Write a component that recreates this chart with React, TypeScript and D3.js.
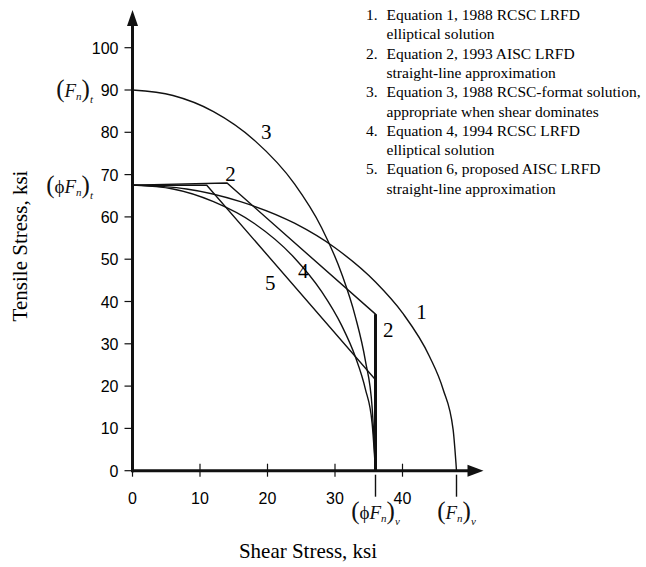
import React, { useEffect, useRef } from 'react';
import * as d3 from 'd3';

// shear (ksi), tensile (ksi)
const curve1 = [[0, 67.5], [8, 66.6], [16, 63.6], [24, 58.5], [30, 52.7], [36, 44.6], [40, 37.3], [44, 27.0], [46, 19.3], [47.5, 9.7], [48, 0]];
const curve2 = [[0, 67.5], [14, 68], [36, 37], [36, 0]];
const curve3 = [[0, 90], [6, 88.7], [12, 84.9], [18, 78.2], [24, 67.8], [28, 57.5], [31, 46.5], [33, 36.5], [34.5, 26], [35.5, 15], [36, 0]];
const curve4 = [[0, 67.5], [6, 66.6], [12, 63.6], [18, 58.5], [24, 50.3], [28, 42.4], [31, 34.3], [33, 27.0], [34.5, 19.3], [35.5, 11.2], [36, 0]];
const curve5 = [[0, 67.5], [11, 67.5], [36, 21.5], [36, 0]];

const curveLabels = [
  { text: '3', x: 19.8, y: 80 },
  { text: '2', x: 14.5, y: 70.2 },
  { text: '1', x: 42.8, y: 37.5 },
  { text: '2', x: 37.9, y: 33.3 },
  { text: '4', x: 25.3, y: 47.3 },
  { text: '5', x: 20.4, y: 44.3 },
];

const xTicks = [0, 10, 20, 30, 40];
const yTicks = [0, 10, 20, 30, 40, 50, 60, 70, 80, 90, 100];

const phiFnV = 36;
const FnV = 48;
const FnT = 90;
const phiFnT = 67.5;

const legendItems = [
  ['1.', 'Equation 1, 1988 RCSC LRFD', 'elliptical solution'],
  ['2.', 'Equation 2, 1993 AISC LRFD', 'straight-line approximation'],
  ['3.', 'Equation 3, 1988 RCSC-format solution,', 'appropriate when shear dominates'],
  ['4.', 'Equation 4, 1994 RCSC LRFD', 'elliptical solution'],
  ['5.', 'Equation 6, proposed AISC LRFD', 'straight-line approximation'],
];

const SERIF = '"Liberation Serif", "Times New Roman", serif';
const SANS = '"Liberation Sans", Arial, sans-serif';

export default function App() {
  const ref = useRef<SVGSVGElement>(null);

  useEffect(() => {
    const svg = d3.select(ref.current);
    svg.selectAll('*').remove();

    const x = d3.scaleLinear().domain([0, 40]).range([132.5, 402.5]);
    const y = d3.scaleLinear().domain([0, 100]).range([470.7, 47.7]);

    const g = svg.append('g');

    // curves
    const smooth = d3.line<number[]>().x(d => x(d[0])).y(d => y(d[1])).curve(d3.curveMonotoneX);
    const straight = d3.line<number[]>().x(d => x(d[0])).y(d => y(d[1]));

    [curve1, curve3, curve4].forEach(c => {
      g.append('path').attr('d', smooth(c)).attr('fill', 'none')
        .attr('stroke', '#111').attr('stroke-width', 1.4);
    });
    [curve5, curve2].forEach(c => {
      g.append('path').attr('d', straight(c)).attr('fill', 'none')
        .attr('stroke', '#111').attr('stroke-width', 1.4);
    });
    // heavy vertical cut-off of curve 2
    g.append('line')
      .attr('x1', x(curve2[2][0])).attr('y1', y(curve2[2][1]))
      .attr('x2', x(curve2[3][0])).attr('y2', y(curve2[3][1]))
      .attr('stroke', '#111').attr('stroke-width', 3);

    // axes
    const x0 = x(0), y0 = y(0);
    const xEnd = x(FnV) + 27;
    g.append('line').attr('x1', x0).attr('y1', y0).attr('x2', xEnd - 12).attr('y2', y0)
      .attr('stroke', '#111').attr('stroke-width', 3);
    g.append('path').attr('d', `M${xEnd},${y0} L${xEnd - 16},${y0 - 6} L${xEnd - 16},${y0 + 6} Z`).attr('fill', '#111');
    const yTop = 10;
    g.append('line').attr('x1', x0).attr('y1', y0 + 1.5).attr('x2', x0).attr('y2', yTop + 12)
      .attr('stroke', '#111').attr('stroke-width', 3);
    g.append('path').attr('d', `M${x0},${yTop} L${x0 - 5.5},${yTop + 16} L${x0 + 5.5},${yTop + 16} Z`).attr('fill', '#111');

    // y ticks
    g.selectAll('.ytick').data(yTicks).join('line').attr('class', 'ytick')
      .attr('x1', x0 - 8).attr('x2', x0).attr('y1', d => y(d)).attr('y2', d => y(d))
      .attr('stroke', '#111').attr('stroke-width', 1.2);
    g.selectAll('.ylab').data(yTicks).join('text').attr('class', 'ylab')
      .attr('x', x0 - 14).attr('y', d => y(d) + 6)
      .attr('text-anchor', 'end').attr('font-family', SANS).attr('font-size', 16)
      .text(d => d);

    // x ticks
    g.selectAll('.xtick').data(xTicks).join('line').attr('class', 'xtick')
      .attr('x1', d => x(d)).attr('x2', d => x(d)).attr('y1', y0 - 7).attr('y2', y0 + 6)
      .attr('stroke', '#111').attr('stroke-width', 1.2);
    g.selectAll('.xlab').data(xTicks).join('text').attr('class', 'xlab')
      .attr('x', d => x(d)).attr('y', y0 + 33)
      .attr('text-anchor', 'middle').attr('font-family', SANS).attr('font-size', 16)
      .text(d => d);

    // long ticks for (phiFn)v and (Fn)v
    [phiFnV, FnV].forEach(v => {
      g.append('line').attr('x1', x(v)).attr('x2', x(v)).attr('y1', y0 + 4).attr('y2', y0 + 26)
        .attr('stroke', '#111').attr('stroke-width', 1.4);
    });

    // symbol labels: ( [phi] F n ) sub
    const symbol = (cx: number, cy: number, phi: boolean, sub: string, anchor: string) => {
      const t = g.append('text').attr('x', cx).attr('y', cy).attr('text-anchor', anchor)
        .attr('font-family', SERIF).attr('fill', '#111');
      t.append('tspan').attr('font-size', 25).text('(');
      if (phi) t.append('tspan').attr('font-size', 19).text('\u03D5');
      t.append('tspan').attr('font-size', 19).attr('font-style', 'italic').text('F');
      t.append('tspan').attr('font-size', 11).attr('font-style', 'italic').attr('dy', 3).text('n');
      t.append('tspan').attr('font-size', 25).attr('dy', -3).text(')');
      t.append('tspan').attr('font-size', 11).attr('font-style', 'italic').attr('dy', 6).text(sub);
    };
    symbol(93, y(FnT) + 7, false, 't', 'end');
    symbol(93, y(phiFnT) + 8, true, 't', 'end');
    symbol(x(phiFnV), y0 + 48, true, 'v', 'middle');
    symbol(x(FnV), y0 + 48, false, 'v', 'middle');

    // curve number labels
    g.selectAll('.clab').data(curveLabels).join('text').attr('class', 'clab')
      .attr('x', d => x(d.x)).attr('y', d => y(d.y) + 7)
      .attr('text-anchor', 'middle').attr('font-family', SERIF).attr('font-size', 21)
      .text(d => d.text);

    // axis titles
    g.append('text').attr('x', 308).attr('y', 558).attr('text-anchor', 'middle')
      .attr('font-family', SERIF).attr('font-size', 21).text('Shear Stress, ksi');
    g.append('text').attr('transform', 'translate(27,246) rotate(-90)').attr('text-anchor', 'middle')
      .attr('font-family', SERIF).attr('font-size', 21).text('Tensile Stress, ksi');

    // legend
    const leg = g.append('g').attr('font-family', SERIF).attr('font-size', 15.5);
    legendItems.forEach((item, i) => {
      const by = 20 + i * 2 * 19.3;
      leg.append('text').attr('x', 366).attr('y', by).text(item[0]);
      leg.append('text').attr('x', 386.5).attr('y', by).text(item[1]);
      leg.append('text').attr('x', 386.5).attr('y', by + 19.3).text(item[2]);
    });
  }, []);

  return (
    <svg ref={ref} width={646} height={567}
      style={{ position: 'absolute', left: 0, top: 0, background: '#fff' }} />
  );
}
